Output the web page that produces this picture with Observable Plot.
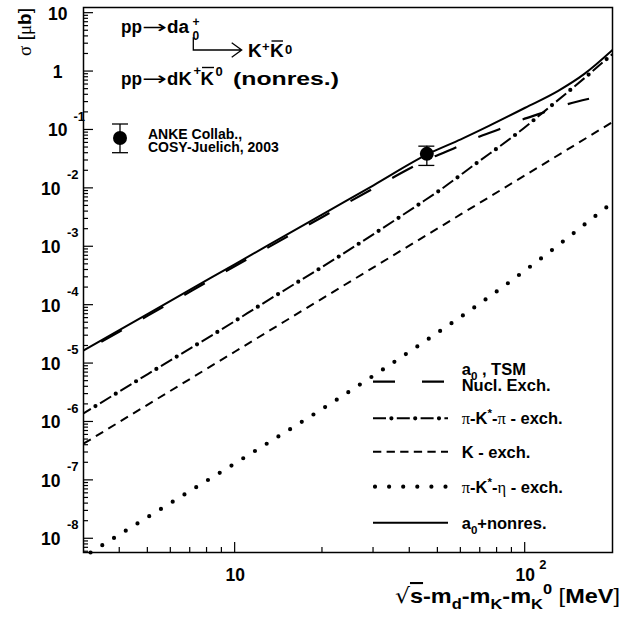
<!DOCTYPE html>
<html><head><meta charset="utf-8">
<script src="https://cdn.jsdelivr.net/npm/d3@7"></script>
<script src="https://cdn.jsdelivr.net/npm/@observablehq/plot@0.6"></script>
<style>
html,body{margin:0;padding:0;background:#fff;}
#chart{width:641px;height:622px;overflow:hidden;}
</style></head><body><div id="chart"></div>
<script>
// ---- data ----
const X_SOLID = [3, 5, 10, 20, 30, 47, 60, 75, 100, 130, 160, 200];
const Y_SOLID = [1.67e-5, 7.11e-5, 5.06e-4, 3.60e-3, 1.13e-2, 4.04e-2, 6.92e-2, 0.1175, 0.240, 0.468, 0.912, 2.34];
const X_TSM = [3, 5, 10, 20, 30, 48, 57.4, 68, 81, 97.5, 114, 139, 166];
const Y_TSM = [1.585e-5, 6.61e-5, 4.68e-4, 3.24e-3, 1.00e-2, 3.42e-2, 4.95e-2, 7.35e-2, 0.102, 0.150, 0.194, 0.274, 0.342];
const X_PIKPI = [3, 5, 10, 11.9, 22.7, 42.9, 50.2, 68, 92.5, 123.6, 165.6, 191.4, 200];
const Y_PIKPI = [1.40e-6, 6.61e-6, 5.37e-5, 9.25e-5, 6.75e-4, 5.30e-3, 8.95e-3, 2.71e-2, 8.28e-2, 0.266, 0.891, 1.656, 1.995];
const X_K = [3, 10, 30, 100, 200];
const Y_K = [4.24e-7, 1.61e-5, 4.44e-4, 1.68e-2, 0.1365];
const X_PIKETA = [3, 3.16, 5.51, 10.5, 21.7, 44.6, 70, 117.8, 196.3, 200];
const Y_PIKETA = [4.90e-9, 5.75e-9, 3.18e-8, 2.28e-7, 2.18e-6, 2.32e-5, 1.08e-4, 7.29e-4, 5.30e-3, 5.69e-3];
const X_DATA = [45.8];
const Y_DATA = [0.039];
const Y_LO = [0.0247];
const Y_HI = [0.0528];

const X_MAJOR = [10, 100];
const X_MINOR = [4, 5, 6, 7, 8, 9, 20, 30, 40, 50, 60, 70, 80, 90];
const X_LABELS = ["10", "10"];
const X_LABEL_EXP = ["", "2"];
const Y_EXP = [1, 0, -1, -2, -3, -4, -5, -6, -7, -8];

const LEGEND = [
  {lines: [[["a", {}], ["0", {sub: true}], [" , TSM", {}]], [["Nucl. Exch.", {}]]]},
  {lines: [[["π", {greek: true}], ["-K", {}], ["*", {sup: true}], ["-", {}], ["π", {greek: true}], [" - exch.", {}]]]},
  {lines: [[["K - exch.", {}]]]},
  {lines: [[["π", {greek: true}], ["-K", {}], ["*", {sup: true}], ["-", {}], ["η", {greek: true}], [" - exch.", {}]]]},
  {lines: [[["a", {}], ["0", {sub: true}], ["+nonres.", {}]]]}
];

const SANS = "'Liberation Sans', Arial, Helvetica, sans-serif";
const SERIF = "'Liberation Serif', 'DejaVu Serif', serif";
const Y_MIN = 5.82e-9, Y_MAX = 12.5, X_MIN = 3, X_MAX = 200;
const W = 641, H = 622, ML = 83, MR = 29, MT = 7, MB = 70;

const pts = (X, Y) => X.map((x, i) => ({x, y: Y[i]}));
const yMinor = [];
for (let e = -9; e <= 1; e++) for (let k = 2; k <= 9; k++) {
  const v = k * 10 ** e; if (v > Y_MIN && v < Y_MAX) yMinor.push(v);
}
const base = {x: "x", y: "y", stroke: "black", strokeWidth: 2, curve: "monotone-x", clip: true, strokeLinecap: "butt"};
const lab = {fontWeight: "bold", fontFamily: SANS, lineAnchor: "bottom", fill: "black"};
const err = X_DATA.map((x, i) => ({x, lo: Y_LO[i], hi: Y_HI[i]}));

const plot = Plot.plot({
  width: W, height: H, marginLeft: ML, marginRight: MR, marginTop: MT, marginBottom: MB,
  style: {background: "white", fontFamily: SANS, overflow: "visible"},
  x: {type: "log", domain: [X_MIN, X_MAX], axis: null},
  y: {type: "log", domain: [Y_MIN, Y_MAX], axis: null},
  marks: [
    Plot.line(pts(X_PIKETA, Y_PIKETA), {...base, clip: false, strokeWidth: 4.2, strokeLinecap: "round", strokeDasharray: "0,13.8", strokeDashoffset: 5.5}),
    Plot.line(pts(X_K, Y_K), {...base, strokeDasharray: "8.5,6"}),
    Plot.line(pts(X_PIKPI, Y_PIKPI), {...base, strokeDasharray: "13,10.8", strokeDashoffset: 4.4}),
    Plot.line(pts(X_PIKPI, Y_PIKPI), {...base, strokeWidth: 4.2, strokeLinecap: "round", strokeDasharray: "0,23.8", strokeDashoffset: 9.8}),
    Plot.line(pts(X_TSM, Y_TSM), {...base, strokeWidth: 2.2, strokeDasharray: "23.5,24.2", strokeDashoffset: 27.3}),
    Plot.line(pts(X_SOLID, Y_SOLID), {...base, strokeLinecap: "round"}),
    Plot.ruleX(err, {x: "x", y1: "lo", y2: "hi", strokeWidth: 1.3}),
    Plot.ruleY(err, {y: "lo", x1: "x", x2: "x", insetLeft: -8, insetRight: -8, strokeWidth: 1.3}),
    Plot.ruleY(err, {y: "hi", x1: "x", x2: "x", insetLeft: -8, insetRight: -8, strokeWidth: 1.3}),
    Plot.dot(pts(X_DATA, Y_DATA), {x: "x", y: "y", r: 7, fill: "black", stroke: null}),
    Plot.frame({stroke: "black", strokeWidth: 1.5}),
    // y tick labels
    Plot.text(Y_EXP.filter(e => e <= -2), {...lab, y: e => 10 ** e, frameAnchor: "left", text: () => "10", textAnchor: "end", dx: -23, dy: 6.5, fontSize: 17.5}),
    Plot.text(Y_EXP.filter(e => e <= -2), {...lab, y: e => 10 ** e, frameAnchor: "left", text: e => String(e), textAnchor: "start", dx: -16.5, dy: -9.4, fontSize: 13}),
    Plot.text(Y_EXP.filter(e => e === -1 || e === 1), {...lab, y: e => 10 ** e, frameAnchor: "left", text: () => "10", textAnchor: "end", dx: -16, dy: 6.5, fontSize: 17.5}),
    Plot.text(Y_EXP.filter(e => e === -1), {...lab, y: e => 10 ** e, frameAnchor: "left", text: e => String(e), textAnchor: "start", dx: -10, dy: -9.4, fontSize: 13}),
    Plot.text(Y_EXP.filter(e => e === 0), {...lab, y: e => 10 ** e, frameAnchor: "left", text: () => "1", textAnchor: "end", dx: -21, dy: 6.5, fontSize: 17.5}),
    // x tick labels
    Plot.text(X_MAJOR, {...lab, x: d => d, frameAnchor: "bottom", text: (d, i) => X_LABELS[i], textAnchor: "middle", dy: 28, fontSize: 17.5}),
    Plot.text(X_MAJOR, {...lab, x: d => d, frameAnchor: "bottom", text: (d, i) => X_LABEL_EXP[i], textAnchor: "start", dx: 14, dy: 16, fontSize: 13})
  ]
});
document.getElementById("chart").appendChild(plot);

// ---- inward ticks, drawn with the plot's own scales ----
const svg = d3.select(plot);
const sx = plot.scale("x"), sy = plot.scale("y");
const tg = svg.append("g").attr("stroke", "black").attr("stroke-width", 1.2).attr("fill", "none");
const xB = H - MB;
for (const [vals, len] of [[X_MAJOR, 10], [X_MINOR, 5]])
  for (const v of vals) { const px = sx.apply(v); tg.append("line").attr("x1", px).attr("x2", px).attr("y1", xB).attr("y2", xB - len); }
for (const [vals, len] of [[Y_EXP.map(e => 10 ** e), 10], [yMinor, 5]])
  for (const v of vals) { const py = sy.apply(v); tg.append("line").attr("x1", ML).attr("x2", ML + len).attr("y1", py).attr("y2", py); }

// ---- annotations, titles, legends ----
const g = svg.append("g").attr("fill", "black");
function piece(x, y, size, s, opts = {}) {
  const t = g.append("text").attr("x", x).attr("y", y)
    .attr("font-family", opts.family || SANS).attr("font-weight", opts.normal ? "normal" : "bold")
    .attr("font-size", size).attr("text-anchor", opts.anchor || "start").text(s);
  if (opts.len) t.attr("textLength", opts.len).attr("lengthAdjust", "spacingAndGlyphs");
  if (opts.transform) t.attr("transform", opts.transform);
  return t;
}
function rich(x, y, size, parts, anchor = "start", transform = null, len = null) {
  const t = g.append("text").attr("x", x).attr("y", y)
    .attr("font-family", SANS).attr("font-weight", "bold").attr("font-size", size)
    .attr("text-anchor", anchor);
  if (transform) t.attr("transform", transform);
  if (len) t.attr("textLength", len).attr("lengthAdjust", "spacingAndGlyphs");
  let shift = 0;
  for (const [s, o] of parts) {
    const target = o.sub ? 0.3 * size : o.sup ? -0.42 * size : 0;
    const ts = t.append("tspan").text(s).attr("dy", target - shift);
    shift = target;
    if (o.sub || o.sup) ts.attr("font-size", size * 0.7);
    if (o.greek) ts.attr("font-family", SERIF).attr("font-weight", "normal");
    if (o.family) ts.attr("font-family", o.family);
    if (o.normal) ts.attr("font-weight", "normal");
    if (o.over) ts.attr("text-decoration", "overline");
  }
  return t;
}
const bar = (x1, x2, y) => g.append("line").attr("x1", x1).attr("x2", x2).attr("y1", y).attr("y2", y)
  .attr("stroke", "black").attr("stroke-width", 1.4);

// reaction label, line 1
piece(121, 33, 17.5, "pp", {len: 21});
piece(0, 0, 17.5, "→", {family: "DejaVu Sans", normal: true, len: 25, transform: "translate(142,33)"});
piece(167, 33, 17.5, "da", {len: 22});
piece(192.5, 26, 12, "+");
piece(192.5, 39.5, 12, "0");
g.append("path").attr("d", "M193.3,37.3V50H241M231.7,42.7L241.7,50L231.7,57.3")
  .attr("fill", "none").attr("stroke", "black").attr("stroke-width", 1.3);
// line 2
piece(248, 57, 19, "K");
piece(262, 51, 13, "+");
piece(270, 57, 19, "K");
bar(271.5, 283, 41);
piece(285, 53.5, 13, "0");
// line 3
piece(121, 85, 18.5, "pp", {len: 21});
piece(0, 0, 18.5, "→", {family: "DejaVu Sans", normal: true, len: 25, transform: "translate(142,85)"});
piece(167, 85, 18.5, "d");
piece(178.5, 85, 18.5, "K");
piece(193.5, 75, 13, "+");
piece(200.5, 85, 18.5, "K");
bar(202, 214, 67.5);
piece(215.5, 75.5, 13, "0");
piece(233, 85, 18.5, "(nonres.)", {len: 106});

// data legend (top left)
g.append("line").attr("x1", 120).attr("x2", 120).attr("y1", 124).attr("y2", 152.7).attr("stroke", "black").attr("stroke-width", 1.3);
g.append("line").attr("x1", 112).attr("x2", 128).attr("y1", 124).attr("y2", 124).attr("stroke", "black").attr("stroke-width", 1.3);
g.append("line").attr("x1", 112).attr("x2", 128).attr("y1", 152.7).attr("y2", 152.7).attr("stroke", "black").attr("stroke-width", 1.3);
g.append("circle").attr("cx", 120).attr("cy", 138).attr("r", 7);
piece(148, 139, 14, "ANKE Collab.,");
piece(148, 151.5, 14, "COSY-Juelich, 2003");

// line legend (bottom right)
const rowsY = [381.7, 418.3, 451.7, 486.7, 522.7];
const styles = [
  [{w: 2.2, dash: "22,27", cap: "butt"}],
  [{w: 2, dash: "13,10.8", cap: "butt"}, {w: 4.2, dash: "0,23.8", cap: "round", off: 5.4}],
  [{w: 2, dash: "8.3,5.3", cap: "butt"}],
  [{w: 4.2, dash: "0,14.1", cap: "round"}],
  [{w: 2, dash: null, cap: "butt"}]
];
rowsY.forEach((yy, i) => {
  for (const s of styles[i]) {
    const l = g.append("line").attr("x1", i === 3 ? 375 : 373).attr("x2", i === 0 ? 444 : 448).attr("y1", yy).attr("y2", yy)
      .attr("stroke", "black").attr("stroke-width", s.w).attr("stroke-linecap", s.cap);
    if (s.dash) l.attr("stroke-dasharray", s.dash);
    if (s.off) l.attr("stroke-dashoffset", s.off);
  }
  const lines = LEGEND[i].lines;
  if (lines.length === 2) {
    rich(461.7, yy - 6.5, 16.5, lines[0]);
    rich(461.7, yy + 9.5, 16.5, lines[1]);
  } else {
    rich(461.7, yy + 6, 16.5, lines[0]);
  }
});

// axis titles
rich(620, 603, 21, [["√", {family: "DejaVu Sans", normal: true}], ["s", {over: true}], ["-m", {}], ["d", {sub: true}], ["-m", {}], ["K", {sub: true}], ["-m", {}], ["K", {sub: true}], ["0", {sup: true}], [" ", {}], ["[", {normal: true}], ["MeV", {}], ["]", {normal: true}]], "end", null, 225);
rich(0, 0, 19, [["σ", {greek: true}], [" [", {normal: true}], ["μ", {greek: true}], ["b", {}], ["]", {normal: true}]], "end", "translate(31,8) rotate(-90)");
</script>
</body></html>
